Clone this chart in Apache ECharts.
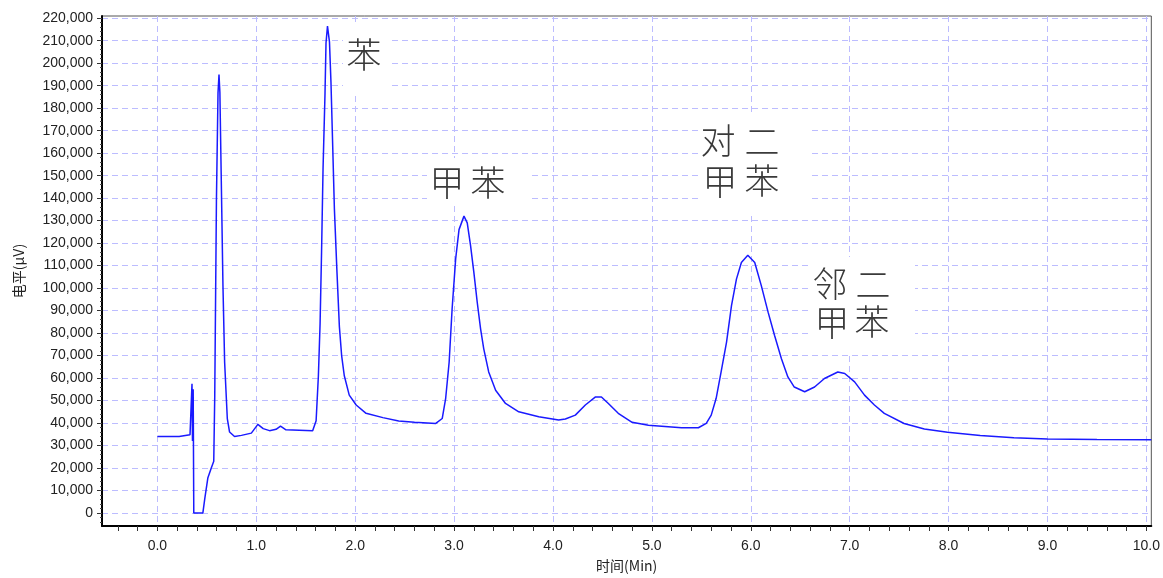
<!DOCTYPE html>
<html>
<head>
<meta charset="utf-8">
<script src="https://cdn.jsdelivr.net/npm/echarts@6/dist/echarts.min.js"></script>
<style>
html,body{margin:0;padding:0;background:#fff;}
#chart{width:1163px;height:578px;}
</style>
</head>
<body>
<div id="chart"></div>
<script>
// Retention time (min)
const times = [
  0.00, 0.22, 0.23, 0.33, 0.345, 0.35, 0.355, 0.362, 0.368, 0.46,
  0.48, 0.51, 0.545, 0.57, 0.58, 0.597, 0.613, 0.623, 0.632, 0.645,
  0.663, 0.68, 0.707, 0.73, 0.78, 0.85, 0.95, 1.016, 1.07, 1.134,
  1.20, 1.245, 1.30, 1.32, 1.57, 1.605, 1.628, 1.645, 1.66, 1.675,
  1.695, 1.705, 1.72, 1.74, 1.755, 1.77, 1.79, 1.816, 1.84, 1.863,
  1.89, 1.94, 2.01, 2.11, 2.28, 2.44, 2.60, 2.815, 2.88, 2.915,
  2.95, 2.98, 3.016, 3.05, 3.10, 3.133, 3.167, 3.20, 3.234, 3.268,
  3.30, 3.35, 3.42, 3.52, 3.654, 3.856, 4.057, 4.125, 4.226, 4.327,
  4.43, 4.49, 4.56, 4.66, 4.80, 4.965, 5.30, 5.47, 5.55, 5.60,
  5.65, 5.70, 5.755, 5.805, 5.855, 5.905, 5.97, 6.04, 6.107, 6.175,
  6.24, 6.31, 6.375, 6.44, 6.545, 6.645, 6.745, 6.88, 6.95, 7.05,
  7.15, 7.25, 7.35, 7.55, 7.755, 7.99, 8.32, 8.66, 9.00, 9.50,
  10.05
];
// Signal (µV)
const signal = [
  34000, 34000, 34800, 34800, 34500, 57500, 32000, 55000, 0, 0,
  6600, 15500, 20000, 23000, 52000, 138700, 186700, 195000, 187000, 151000,
  101000, 67000, 42000, 36000, 34000, 34500, 35500, 39400, 37500, 36600,
  37200, 38600, 37000, 36600, 36600, 41000, 61000, 84000, 116000, 153000,
  186700, 209000, 216500, 209500, 191800, 167500, 135000, 107000, 83000, 70000,
  61000, 52400, 48000, 44300, 42400, 40900, 40300, 39800, 42000, 51000,
  67000, 90700, 113000, 126000, 132000, 129000, 118800, 107000, 93700, 81900,
  73000, 62700, 54600, 48700, 45000, 42800, 41300, 41800, 43500, 48000,
  51600, 51600, 48700, 44300, 40300, 39000, 37900, 37900, 39800, 43500,
  51000, 62700, 76000, 92200, 104000, 111400, 114600, 111400, 101000, 89300,
  79000, 68600, 60500, 56000, 53900, 56000, 59800, 62700, 62000, 58300,
  52400, 48000, 44300, 39800, 37300, 35900, 34400, 33500, 32900, 32700,
  32600
];
// Tick labels
const xLabels = [0,1,2,3,4,5,6,7,8,9,10];
const xMinorTicks = [];
for (let i = -2; i <= 50; i++) xMinorTicks.push(+(i * 0.2).toFixed(1));
const yLabels = [];
for (let v = 0; v <= 220000; v += 10000) yLabels.push(v);
const yMinorTicks = [];
for (let v = -4000; v <= 220000; v += 2000) yMinorTicks.push(v);

const xMin = -0.56, xMax = 10.05, yMin = -5800, yMax = 221000;
const gridColor = '#bcbcff';
const labelFont = {fontFamily: 'Liberation Sans, Arial, sans-serif', fontSize: 14, color: '#222'};

const chart = echarts.init(document.getElementById('chart'), null, {renderer: 'canvas'});

function ann(ch, x, y) {
  return {
    type: 'text', x: x, y: y, z: 101,
    style: {
      text: ch, fill: '#3a3a3a', fontSize: 35, fontWeight: 300,
      fontFamily: 'Noto Sans CJK SC', align: 'center', verticalAlign: 'middle'
    }
  };
}
function box(x, y, w, h) {
  return {type: 'rect', z: 100, shape: {x: x, y: y, width: w, height: h}, style: {fill: '#fff'}};
}

chart.setOption({
  animation: false,
  backgroundColor: '#fff',
  grid: {left: 102, right: 10, top: 16, bottom: 50, show: true, borderColor: '#555', borderWidth: 1, backgroundColor: '#fff'},
  xAxis: [
    {
      type: 'value', min: xMin, max: xMax, position: 'bottom',
      name: '时间(Min)', nameLocation: 'middle', nameGap: 33,
      nameTextStyle: Object.assign({}, labelFont, {fontFamily: 'Noto Sans CJK SC, Liberation Sans, sans-serif'}),
      axisLine: {show: true, onZero: false, lineStyle: {color: '#000', width: 2}},
      axisTick: {show: true, customValues: xMinorTicks, length: 5, lineStyle: {color: '#333', width: 1}},
      axisLabel: Object.assign({customValues: xLabels, margin: 13, formatter: v => v.toFixed(1)}, labelFont),
      splitLine: {show: false}
    },
    {
      type: 'value', min: xMin, max: xMax, position: 'bottom',
      axisLine: {show: false, onZero: false}, axisTick: {show: false, customValues: xLabels},
      axisLabel: {show: false},
      splitLine: {show: true, lineStyle: {color: gridColor, type: [6, 4], width: 1}}
    }
  ],
  yAxis: [
    {
      type: 'value', min: yMin, max: yMax, position: 'left',
      name: '电平(µV)', nameLocation: 'middle', nameGap: 76, nameRotate: 90,
      nameTextStyle: Object.assign({}, labelFont, {fontFamily: 'Noto Sans CJK SC, Liberation Sans, sans-serif'}),
      axisLine: {show: true, onZero: false, lineStyle: {color: '#000', width: 2}},
      axisTick: {show: true, customValues: yLabels, length: 5, lineStyle: {color: '#333', width: 1}},
      axisLabel: Object.assign({customValues: yLabels, margin: 9, formatter: v => v.toLocaleString('en-US')}, labelFont),
      splitLine: {show: true, lineStyle: {color: gridColor, type: [6, 4], width: 1}}
    },
    {
      type: 'value', min: yMin, max: yMax, position: 'left',
      axisLine: {show: false, onZero: false},
      axisTick: {show: true, customValues: yMinorTicks, length: 2, lineStyle: {color: '#444'}},
      axisLabel: {show: false}, splitLine: {show: false}
    }
  ],
  series: [{
    type: 'line',
    xAxisIndex: 0, yAxisIndex: 0,
    data: times.map((t, i) => [t, signal[i]]),
    showSymbol: false, symbol: 'none',
    lineStyle: {color: '#1a1aff', width: 1.5},
    z: 5
  }],
  graphic: [
    box(343, 25, 45, 70),
    box(427, 158, 105, 47),
    box(700, 113, 108, 100),
    box(808, 257, 107, 98),
    ann('苯', 364, 55),
    ann('甲', 447, 183), ann('苯', 488, 183),
    ann('对', 718, 141), ann('二', 762, 142),
    ann('甲', 720, 182), ann('苯', 762, 181),
    ann('邻', 830, 284), ann('二', 873, 285),
    ann('甲', 832, 323), ann('苯', 872, 322)
  ]
});
</script>
</body>
</html>
